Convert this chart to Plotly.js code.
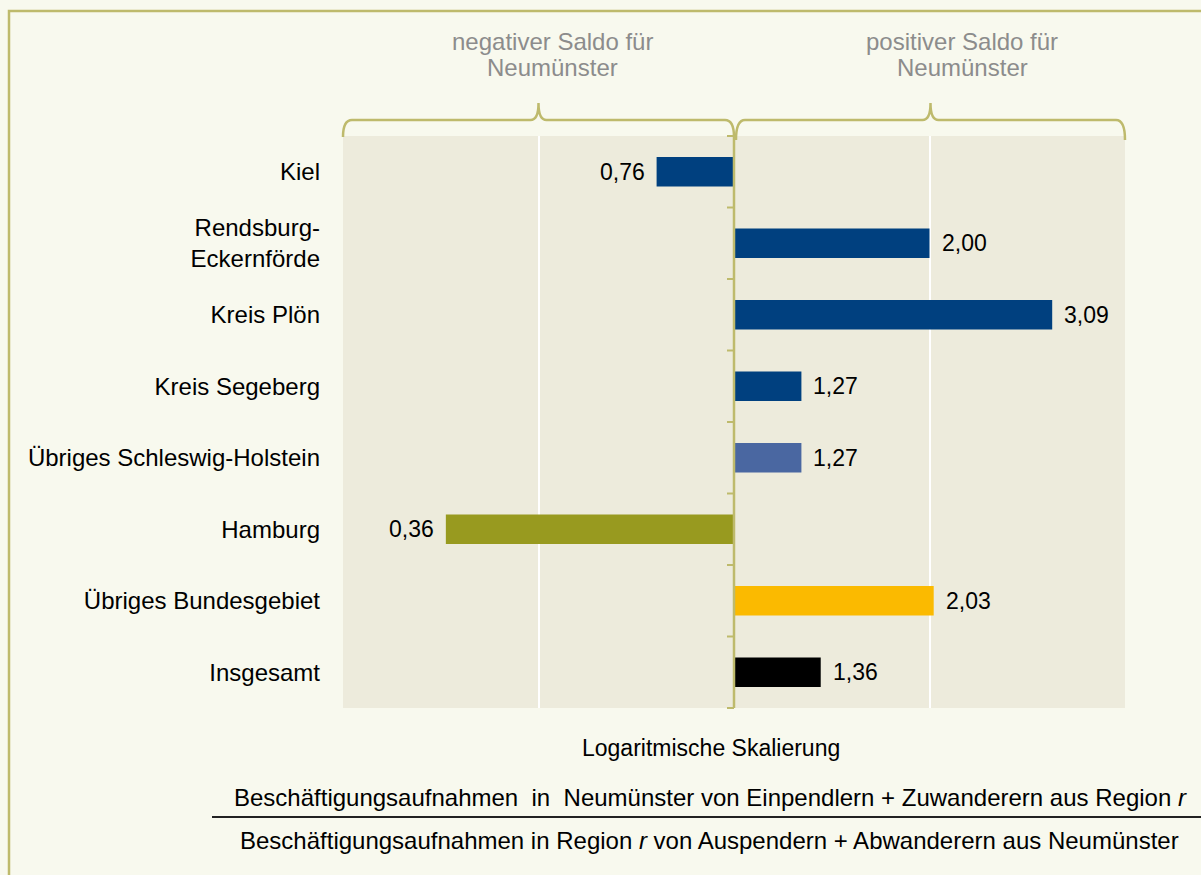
<!DOCTYPE html>
<html>
<head>
<meta charset="utf-8">
<script src="https://cdn.plot.ly/plotly-3.0.1.min.js"></script>
<style>html,body{margin:0;padding:0;background:#F8F9EE;}</style>
</head>
<body>
<div id="chart" style="width:1201px;height:875px;"></div>
<script>
// ---- data ----
const regions = ["Kiel", "Rendsburg-<br>Eckernförde", "Kreis Plön", "Kreis Segeberg",
  "Übriges Schleswig-Holstein", "Hamburg", "Übriges Bundesgebiet", "Insgesamt"];
const ratios = [0.76, 2.00, 3.09, 1.27, 1.27, 0.36, 2.03, 1.36];
const barColors = ["#00407F", "#00407F", "#00407F", "#00407F", "#4A67A1", "#989A1F", "#FBBA00", "#000000"];
const sideLabelLines = [["negativer Saldo für", "Neumünster"], ["positiver Saldo für", "Neumünster"]];
const scaleNote = "Logaritmische Skalierung";
const numerator = "Beschäftigungsaufnahmen  in  Neumünster von Einpendlern + Zuwanderern aus Region <i>r</i>";
const denominator = "Beschäftigungsaufnahmen in Region <i>r</i> von Auspendern + Abwanderern aus Neumünster";
const xRange = [0.25, 4];
const gridVals = [0.5, 2, 4];

// ---- geometry helpers (pixel -> paper) ----
const W = 1201, H = 875;
const M = {l: 343, r: 76, t: 136, b: 167};
const PW = W - M.l - M.r, PH = H - M.t - M.b;
const px = x => (x - M.l) / PW;
const py = y => (H - M.b - y) / PH;
const P = (x, y) => px(x).toFixed(5) + "," + py(y).toFixed(5);
const FONT = "Liberation Sans, Arial, sans-serif";
const olive = "#BEBA6C";
const xc = M.l + PW * (Math.log10(1) - Math.log10(xRange[0])) / (Math.log10(xRange[1]) - Math.log10(xRange[0]));

function brace(x0, x1, yTop, yEnd, peak) {
  const xm = (x0 + x1) / 2;
  return "M " + P(x0, yEnd) + " Q " + P(x0, yTop) + " " + P(x0 + 9, yTop) +
    " L " + P(xm - 8, yTop) + " Q " + P(xm, yTop) + " " + P(xm, peak) +
    " Q " + P(xm, yTop) + " " + P(xm + 8, yTop) +
    " L " + P(x1 - 9, yTop) + " Q " + P(x1, yTop) + " " + P(x1, yEnd);
}

const shapes = [];
// outer frame
shapes.push({type: "rect", xref: "paper", yref: "paper", x0: px(9), x1: px(1215), y0: py(890), y1: py(11),
  line: {color: olive, width: 2.5}, layer: "below"});
// braces
shapes.push({type: "path", xref: "paper", yref: "paper", path: brace(M.l, xc, 120, 137, 103), line: {color: olive, width: 2.5}});
shapes.push({type: "path", xref: "paper", yref: "paper", path: brace(xc + 2, W - M.r, 120, 140, 103), line: {color: olive, width: 2.5}});
// central axis line at ratio 1 with category-boundary ticks
shapes.push({type: "line", xref: "paper", yref: "paper", x0: px(xc), x1: px(xc), y0: 0, y1: 1, line: {color: olive, width: 2.5}});
for (let k = 0; k <= regions.length; k++) {
  shapes.push({type: "line", xref: "paper", yref: "paper", x0: px(xc - 7), x1: px(xc), y0: k / regions.length, y1: k / regions.length,
    line: {color: olive, width: 2}});
}
// fraction line
shapes.push({type: "line", xref: "paper", yref: "paper", x0: px(212), x1: px(1205), y0: py(817), y1: py(817), line: {color: "#222222", width: 2}});

const annotations = [];
// value labels
ratios.forEach((v, i) => {
  annotations.push({x: Math.log10(v), y: regions[i], xref: "x", yref: "y",
    text: v.toFixed(2).replace(".", ","), showarrow: false,
    xanchor: v >= 1 ? "left" : "right", xshift: v >= 1 ? 10 : -10,
    font: {family: FONT, size: 23, color: "#000000"}});
});
// side labels (two lines each)
[552, 962].forEach((cx, j) => {
  sideLabelLines[j].forEach((line, li) => {
    annotations.push({x: px(cx), y: py(42 + li * 25), xref: "paper", yref: "paper", text: line, showarrow: false,
      xanchor: "center", yanchor: "middle", align: "center",
      font: {family: FONT, size: 24, color: "#8C8C8C"}});
  });
});
annotations.push({x: px(711), y: py(748), xref: "paper", yref: "paper", text: scaleNote, showarrow: false,
  xanchor: "center", yanchor: "middle", font: {family: FONT, size: 23, color: "#000000"}});
annotations.push({x: px(710), y: py(797), xref: "paper", yref: "paper", text: numerator, showarrow: false,
  xanchor: "center", yanchor: "middle", font: {family: FONT, size: 24, color: "#000000"}});
annotations.push({x: px(709), y: py(840), xref: "paper", yref: "paper", text: denominator, showarrow: false,
  xanchor: "center", yanchor: "middle", font: {family: FONT, size: 24, color: "#000000"}});

const trace = {
  type: "bar", orientation: "h",
  y: regions,
  x: ratios.map(v => v - 1),
  base: 1,
  marker: {color: barColors, line: {width: 0}},
  hoverinfo: "skip"
};

const layout = {
  width: W, height: H,
  margin: M,
  paper_bgcolor: "#F8F9EE",
  plot_bgcolor: "#EDEBDC",
  showlegend: false,
  bargap: 0.59,
  font: {family: FONT, size: 24, color: "#000000"},
  xaxis: {type: "log", range: xRange.map(Math.log10), tickmode: "array", tickvals: gridVals,
    showticklabels: false, ticks: "", showgrid: true, gridcolor: "#FFFFFF", gridwidth: 2,
    showline: false, zeroline: false, fixedrange: true},
  yaxis: {type: "category", categoryorder: "array", categoryarray: regions, range: [regions.length - 0.5, -0.5],
    ticks: "", showgrid: false, showline: false, zeroline: false, ticklabelstandoff: 22,
    tickfont: {family: FONT, size: 24, color: "#000000"}, fixedrange: true},
  shapes: shapes,
  annotations: annotations
};

Plotly.newPlot("chart", [trace], layout, {displayModeBar: false, staticPlot: true});
</script>
</body>
</html>
